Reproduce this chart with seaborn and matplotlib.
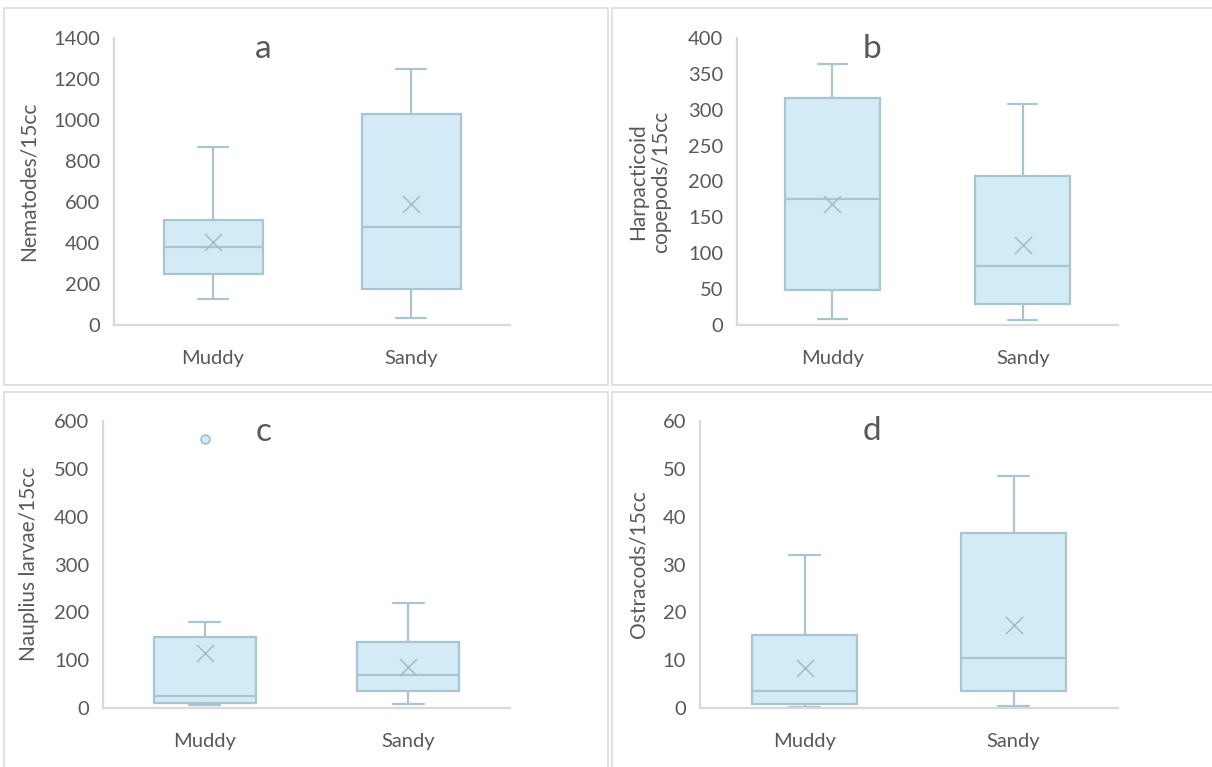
import matplotlib
matplotlib.use("Agg")
import matplotlib.pyplot as plt
from matplotlib.patches import Rectangle
import seaborn as sns
import pandas as pd

sns.set_theme(style="white")
plt.rcParams["font.family"] = ["Lato", "DejaVu Sans"]

categories = ["Muddy", "Sandy"]

# five-number summaries per site: lower whisker, Q1, median, Q3, upper whisker
nematodes_low = [125, 36]
nematodes_q1 = [249, 177]
nematodes_med = [379, 476]
nematodes_q3 = [512, 1028]
nematodes_high = [870, 1249]
nematodes_mean = [403, 589]

harpacticoid_low = [8, 7]
harpacticoid_q1 = [49, 29]
harpacticoid_med = [176, 82]
harpacticoid_q3 = [316, 207]
harpacticoid_high = [364, 308]
harpacticoid_mean = [168, 112]

nauplius_low = [7, 9]
nauplius_q1 = [11, 36]
nauplius_med = [26, 69]
nauplius_q3 = [148, 138]
nauplius_high = [179, 219]
nauplius_mean = [114, 86]
nauplius_outliers = [[563], []]

ostracods_low = [0.2, 0.5]
ostracods_q1 = [0.9, 3.6]
ostracods_med = [3.6, 10.4]
ostracods_q3 = [15.3, 36.5]
ostracods_high = [32, 48.6]
ostracods_mean = [8.3, 17.4]

panels = [
    dict(letter="a", ylabel="Nematodes/15cc", ymax=1400, step=200,
         low=nematodes_low, q1=nematodes_q1, med=nematodes_med, q3=nematodes_q3,
         high=nematodes_high, mean=nematodes_mean, fliers=[[], []],
         rect=(114, 38, 510, 325), label_xy=(29, 181.5), letter_xy=(263, 58)),
    dict(letter="b", ylabel="Harpacticoid\ncopepods/15cc", ymax=400, step=50,
         low=harpacticoid_low, q1=harpacticoid_q1, med=harpacticoid_med, q3=harpacticoid_q3,
         high=harpacticoid_high, mean=harpacticoid_mean, fliers=[[], []],
         rect=(737, 38, 1118, 325), label_xy=(650, 181.5), letter_xy=(872, 58)),
    dict(letter="c", ylabel="Nauplius larvae/15cc", ymax=600, step=100,
         low=nauplius_low, q1=nauplius_q1, med=nauplius_med, q3=nauplius_q3,
         high=nauplius_high, mean=nauplius_mean, fliers=nauplius_outliers,
         rect=(103, 421, 510, 708), label_xy=(29, 564), letter_xy=(264, 441)),
    dict(letter="d", ylabel="Ostracods/15cc", ymax=60, step=10,
         low=ostracods_low, q1=ostracods_q1, med=ostracods_med, q3=ostracods_q3,
         high=ostracods_high, mean=ostracods_mean, fliers=[[], []],
         rect=(700, 421, 1118, 708), label_xy=(638, 564), letter_xy=(872, 440)),
]

W, H = 1212, 767
FILL = "#d3ebf6"
EDGE = "#a8c5d0"
TEXT = "#595959"
GRID = "#d9d9d9"

fig = plt.figure(figsize=(W / 100, H / 100), dpi=100)
fig.patch.set_facecolor("white")

# chart-area frames around each panel (right and bottom ones run off the canvas)
for (x0, y0, x1, y1) in [(4, 8, 608, 385), (612, 8, 1216, 385),
                         (4, 392, 608, 772), (612, 392, 1216, 772)]:
    fig.add_artist(Rectangle((x0 / W, 1 - y1 / H), (x1 - x0) / W, (y1 - y0) / H,
                             transform=fig.transFigure, fill=False,
                             edgecolor=GRID, linewidth=1.1))

for p in panels:
    l, t, r, b = p["rect"]
    ax = fig.add_axes([l / W, 1 - b / H, (r - l) / W, (b - t) / H])
    ax.set_facecolor("none")

    stats = []
    for i, cat in enumerate(categories):
        stats.append(dict(label=cat, whislo=p["low"][i], q1=p["q1"][i], med=p["med"][i],
                          q3=p["q3"][i], whishi=p["high"][i], mean=p["mean"][i],
                          fliers=p["fliers"][i]))
    ax.bxp(stats, positions=[0, 1], widths=0.5, patch_artist=True,
           showfliers=False, showmeans=False, showcaps=True,
           boxprops=dict(facecolor=FILL, edgecolor=EDGE, linewidth=1.6),
           medianprops=dict(color=EDGE, linewidth=1.6),
           whiskerprops=dict(color=EDGE, linewidth=1.6),
           capprops=dict(color=EDGE, linewidth=1.6),
           capwidths=0.15)

    means = pd.DataFrame({"pos": [0, 1], "mean": p["mean"]})
    sns.scatterplot(data=means, x="pos", y="mean", marker="x", s=150,
                    color="#a3bcc5", linewidth=1.1, ax=ax, zorder=5)

    flier_rows = [(i, v) for i, vals in enumerate(p["fliers"]) for v in vals]
    if flier_rows:
        fl = pd.DataFrame(flier_rows, columns=["pos", "value"])
        sns.scatterplot(data=fl, x="pos", y="value", marker="o", s=40,
                        color=FILL, edgecolor=EDGE, linewidth=1.4, ax=ax, zorder=5)

    ax.set_xlim(-0.5, 1.5)
    ax.set_ylim(0, p["ymax"])
    ax.set_yticks(range(0, p["ymax"] + 1, p["step"]))
    ax.set_xticks([0, 1])
    ax.set_xticklabels(categories)
    ax.set_xlabel("")
    ax.set_ylabel("")
    ax.tick_params(axis="both", length=0, labelsize=14.5, labelcolor=TEXT)
    ax.tick_params(axis="x", pad=18)
    ax.tick_params(axis="y", pad=10)
    for side in ["top", "right"]:
        ax.spines[side].set_visible(False)
    for side in ["left", "bottom"]:
        ax.spines[side].set_color(GRID)
        ax.spines[side].set_linewidth(1.6)
    ax.grid(False)

    fig.text(p["label_xy"][0] / W, 1 - p["label_xy"][1] / H, p["ylabel"],
             rotation=90, ha="center", va="center", fontsize=15, color=TEXT,
             linespacing=1.2, multialignment="center")
    fig.text(p["letter_xy"][0] / W, 1 - p["letter_xy"][1] / H, p["letter"],
             ha="center", va="baseline", fontsize=24, color=TEXT)

fig.savefig("out.png", dpi=100, facecolor="white")
